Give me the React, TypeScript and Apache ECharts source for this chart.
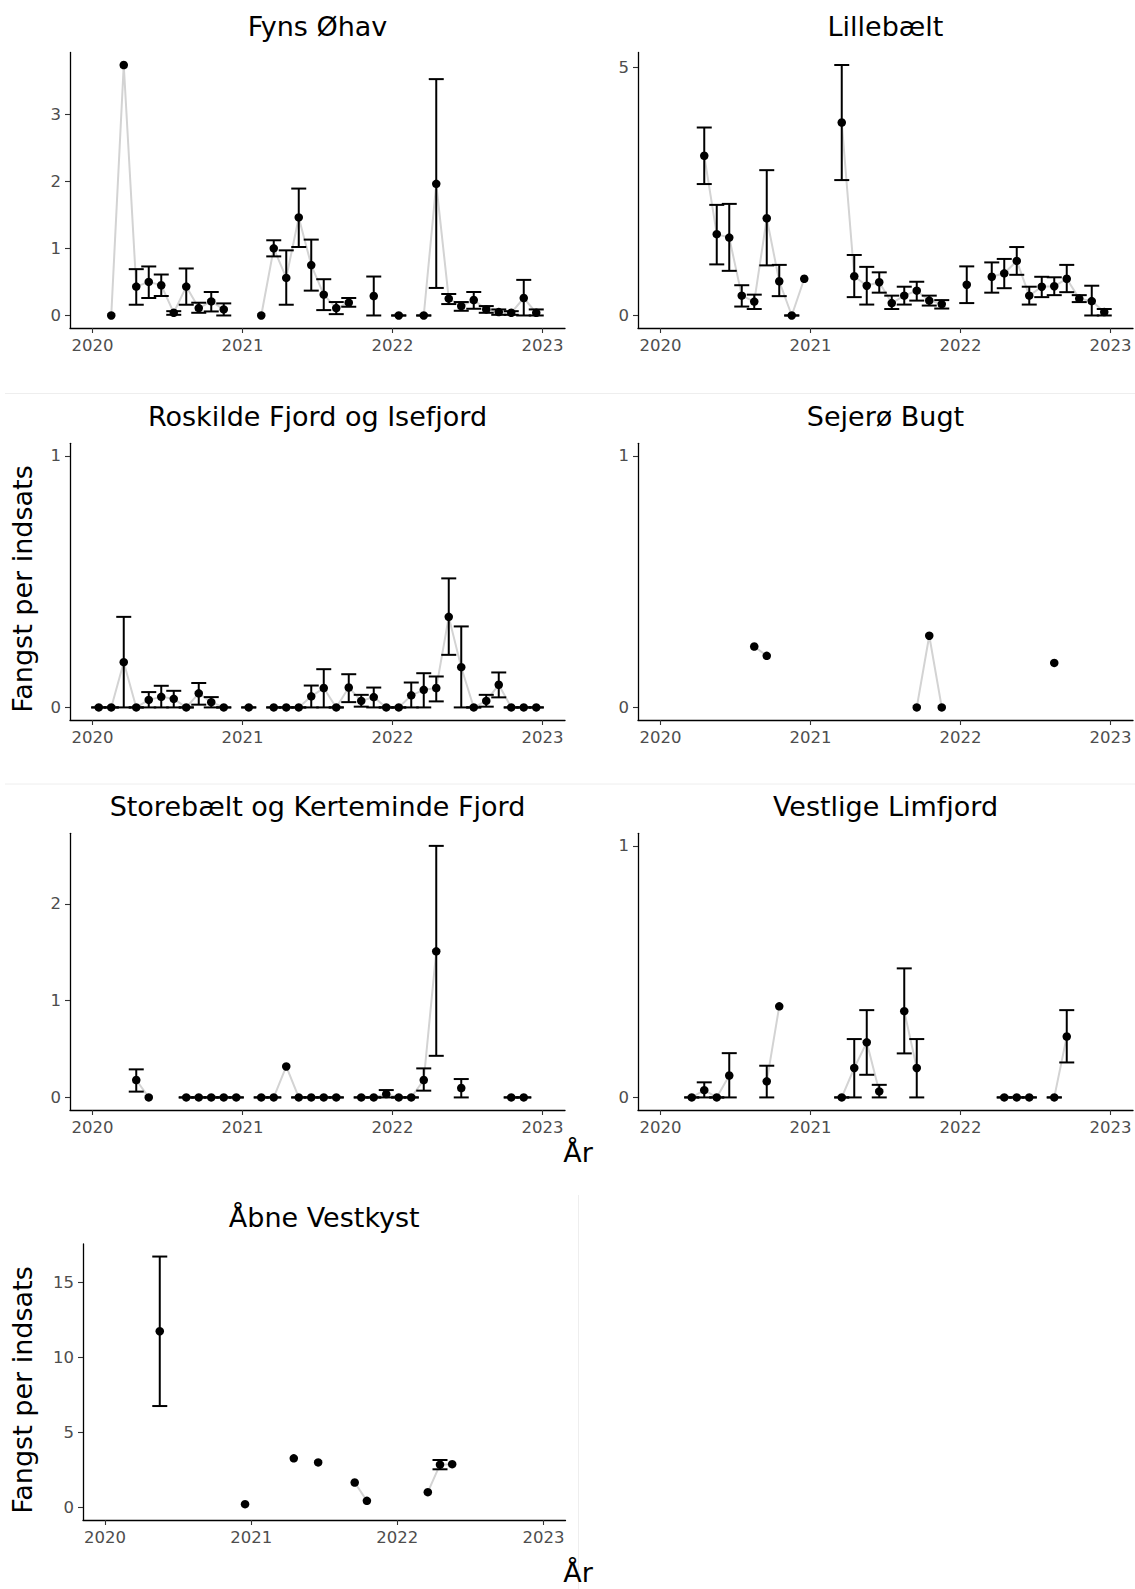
import React, { useEffect, useRef } from "react";
import * as echarts from "echarts";

// ---------- data ----------
const panelTitles = [
  "Fyns Øhav",
  "Lillebælt",
  "Roskilde Fjord og Isefjord",
  "Sejerø Bugt",
  "Storebælt og Kerteminde Fjord",
  "Vestlige Limfjord",
  "Åbne Vestkyst",
];

const xTickLabels = [2020, 2021, 2022, 2023];
const yAxisTitle = "Fangst per indsats";
const xAxisTitle = "År";

// Fyns Øhav
const fynsMonths = ["2020-02","2020-03","2020-04","2020-05","2020-06","2020-07","2020-08","2020-09","2020-10","2020-11","2021-02","2021-03","2021-04","2021-05","2021-06","2021-07","2021-08","2021-09","2021-11","2022-01","2022-03","2022-04","2022-05","2022-06","2022-07","2022-08","2022-09","2022-10","2022-11","2022-12"];
const fynsValues = [0, 3.73, 0.43, 0.5, 0.45, 0.04, 0.43, 0.11, 0.21, 0.09, 0, 1.0, 0.56, 1.46, 0.75, 0.31, 0.11, 0.19, 0.29, 0, 0, 1.96, 0.25, 0.14, 0.23, 0.09, 0.05, 0.04, 0.26, 0.04];
const fynsLow = [null, null, 0.16, 0.26, 0.29, 0.01, 0.16, 0.04, 0.06, 0, null, 0.88, 0.16, 1.02, 0.37, 0.08, 0.02, 0.13, 0, 0, 0, 0.41, 0.17, 0.07, 0.1, 0.04, 0.01, 0.01, 0, 0];
const fynsHigh = [null, null, 0.69, 0.73, 0.61, 0.064, 0.7, 0.19, 0.35, 0.18, null, 1.12, 0.97, 1.89, 1.13, 0.54, 0.2, 0.26, 0.58, 0, 0, 3.52, 0.32, 0.2, 0.35, 0.14, 0.09, 0.064, 0.53, 0.09];

// Lillebælt
const lilleMonths = ["2020-04","2020-05","2020-06","2020-07","2020-08","2020-09","2020-10","2020-11","2020-12","2021-03","2021-04","2021-05","2021-06","2021-07","2021-08","2021-09","2021-10","2021-11","2022-01","2022-03","2022-04","2022-05","2022-06","2022-07","2022-08","2022-09","2022-10","2022-11","2022-12"];
const lilleValues = [3.22, 1.64, 1.57, 0.4, 0.28, 1.96, 0.69, 0, 0.74, 3.89, 0.79, 0.6, 0.67, 0.25, 0.4, 0.5, 0.3, 0.23, 0.62, 0.78, 0.85, 1.1, 0.4, 0.58, 0.59, 0.74, 0.34, 0.29, 0.07];
const lilleLow = [2.65, 1.03, 0.9, 0.18, 0.13, 1.01, 0.39, 0, null, 2.73, 0.37, 0.22, 0.46, 0.13, 0.22, 0.3, 0.2, 0.14, 0.25, 0.46, 0.55, 0.82, 0.22, 0.37, 0.41, 0.47, 0.27, 0, 0];
const lilleHigh = [3.79, 2.23, 2.25, 0.61, 0.42, 2.93, 1.02, 0, null, 5.05, 1.22, 0.98, 0.87, 0.4, 0.58, 0.68, 0.4, 0.31, 0.99, 1.07, 1.14, 1.38, 0.58, 0.78, 0.77, 1.02, 0.41, 0.6, 0.13];

// Roskilde Fjord og Isefjord
const roskildeMonths = ["2020-01","2020-02","2020-03","2020-04","2020-05","2020-06","2020-07","2020-08","2020-09","2020-10","2020-11","2021-01","2021-03","2021-04","2021-05","2021-06","2021-07","2021-08","2021-09","2021-10","2021-11","2021-12","2022-01","2022-02","2022-03","2022-04","2022-05","2022-06","2022-07","2022-08","2022-09","2022-10","2022-11","2022-12"];
const roskildeValues = [0, 0, 0.18, 0, 0.03, 0.042, 0.034, 0, 0.056, 0.021, 0, 0, 0, 0, 0, 0.044, 0.077, 0, 0.079, 0.026, 0.041, 0, 0, 0.048, 0.07, 0.077, 0.36, 0.16, 0, 0.026, 0.09, 0, 0, 0];
const roskildeLow = [0, 0, 0, 0, 0, 0, 0, 0, 0.011, 0, 0, 0, 0, 0, 0, 0, 0, 0, 0.021, 0.003, 0, 0, 0, 0, 0, 0.024, 0.209, 0, 0, 0.003, 0.04, 0, 0, 0];
const roskildeHigh = [0, 0, 0.36, 0, 0.061, 0.086, 0.066, 0, 0.097, 0.041, 0, 0, 0, 0, 0, 0.087, 0.152, 0, 0.132, 0.05, 0.079, 0, 0, 0.099, 0.136, 0.123, 0.513, 0.322, 0, 0.05, 0.139, 0, 0, 0];

// Sejerø Bugt
const sejeroMonths = ["2020-08","2020-09","2021-09","2021-10","2021-11","2022-08"];
const sejeroValues = [0.242, 0.205, 0, 0.285, 0, 0.177];
const sejeroLow = [null, null, null, null, null, null];
const sejeroHigh = [null, null, null, null, null, null];

// Storebælt og Kerteminde Fjord
const storeMonths = ["2020-04","2020-05","2020-08","2020-09","2020-10","2020-11","2020-12","2021-02","2021-03","2021-04","2021-05","2021-06","2021-07","2021-08","2021-10","2021-11","2021-12","2022-01","2022-02","2022-03","2022-04","2022-06","2022-10","2022-11"];
const storeValues = [0.18, 0, 0, 0, 0, 0, 0, 0, 0, 0.32, 0, 0, 0, 0, 0, 0, 0.035, 0, 0, 0.18, 1.51, 0.097, 0, 0];
const storeLow = [0.06, null, 0, 0, 0, 0, 0, 0, 0, null, 0, 0, 0, 0, 0, 0, 0, 0, 0, 0.07, 0.43, 0, 0, 0];
const storeHigh = [0.29, null, 0, 0, 0, 0, 0, 0, 0, null, 0, 0, 0, 0, 0, 0, 0.076, 0, 0, 0.3, 2.6, 0.19, 0, 0];

// Vestlige Limfjord
const vestMonths = ["2020-03","2020-04","2020-05","2020-06","2020-09","2020-10","2021-03","2021-04","2021-05","2021-06","2021-08","2021-09","2022-04","2022-05","2022-06","2022-08","2022-09"];
const vestValues = [0, 0.029, 0, 0.087, 0.064, 0.362, 0, 0.117, 0.219, 0.024, 0.343, 0.117, 0, 0, 0, 0, 0.242];
const vestLow = [0, 0, 0, 0, 0, null, 0, 0, 0.09, 0, 0.175, 0, 0, 0, 0, 0, 0.139];
const vestHigh = [0, 0.06, 0, 0.176, 0.126, null, 0, 0.232, 0.347, 0.05, 0.513, 0.232, 0, 0, 0, 0, 0.347];

// Åbne Vestkyst
const aabneMonths = ["2020-05","2020-12","2021-04","2021-06","2021-09","2021-10","2022-03","2022-04","2022-05"];
const aabneValues = [11.73, 0.22, 3.27, 3.0, 1.66, 0.44, 1.02, 2.85, 2.88];
const aabneLow = [6.75, null, null, null, null, null, null, 2.54, null];
const aabneHigh = [16.7, null, null, null, null, null, null, 3.16, null];

const yTickValues = [
  [0, 1, 2, 3],
  [0, 5],
  [0, 1],
  [0, 1],
  [0, 1, 2],
  [0, 1],
  [0, 5, 10, 15],
];

const panelData = [
  { months: fynsMonths, values: fynsValues, low: fynsLow, high: fynsHigh },
  { months: lilleMonths, values: lilleValues, low: lilleLow, high: lilleHigh },
  { months: roskildeMonths, values: roskildeValues, low: roskildeLow, high: roskildeHigh },
  { months: sejeroMonths, values: sejeroValues, low: sejeroLow, high: sejeroHigh },
  { months: storeMonths, values: storeValues, low: storeLow, high: storeHigh },
  { months: vestMonths, values: vestValues, low: vestLow, high: vestHigh },
  { months: aabneMonths, values: aabneValues, low: aabneLow, high: aabneHigh },
];

// ---------- layout ----------
const X_MIN = 2019.85;
const X_MAX = 2023.15;
const FONT = "DejaVu Sans";

const grids = [
  { left: 70, top: 52.5, width: 495, height: 275.5 },
  { left: 638, top: 52.5, width: 495, height: 275.5 },
  { left: 70, top: 443.3, width: 495, height: 276.7 },
  { left: 638, top: 443.3, width: 495, height: 276.7 },
  { left: 70, top: 833.3, width: 495, height: 276.7 },
  { left: 638, top: 833.3, width: 495, height: 276.7 },
  { left: 83, top: 1244, width: 482.5, height: 276 },
];

function monthToX(s: string) {
  const [y, m] = s.split("-").map(Number);
  return y + (m - 0.5) / 12;
}
function monthIdx(s: string) {
  const [y, m] = s.split("-").map(Number);
  return y * 12 + m;
}

function buildOption() {
  const grid: any[] = [];
  const xAxis: any[] = [];
  const yAxis: any[] = [];
  const series: any[] = [];
  const graphic: any[] = [];

  panelData.forEach((p, i) => {
    const g = grids[i];
    grid.push({ left: g.left, top: g.top, width: g.width, height: g.height, containLabel: false });

    let dataMax = 1;
    p.values.forEach((v, j) => {
      dataMax = Math.max(dataMax, v, p.high[j] ?? 0);
    });
    const yMin = -0.05 * dataMax;
    const yMax = 1.05 * dataMax;

    xAxis.push({
      type: "value",
      gridIndex: i,
      min: X_MIN,
      max: X_MAX,
      splitLine: { show: false },
      axisLine: { show: true, onZero: false, lineStyle: { color: "#000", width: 1.3 } },
      axisTick: { show: true, length: 5, customValues: xTickLabels, lineStyle: { color: "#333", width: 1.1 } },
      axisLabel: {
        customValues: xTickLabels,
        formatter: (v: number) => String(Math.round(v)),
        color: "#4d4d4d",
        fontSize: 16.5,
        fontFamily: FONT,
        margin: 9,
      },
    });
    yAxis.push({
      type: "value",
      gridIndex: i,
      min: yMin,
      max: yMax,
      splitLine: { show: false },
      axisLine: { show: true, onZero: false, lineStyle: { color: "#000", width: 1.3 } },
      axisTick: { show: true, length: 5, customValues: yTickValues[i], lineStyle: { color: "#333", width: 1.1 } },
      axisLabel: {
        customValues: yTickValues[i],
        formatter: (v: number) => String(Math.round(v)),
        color: "#4d4d4d",
        fontSize: 16.5,
        fontFamily: FONT,
        margin: 9,
      },
    });

    // grey connecting line, broken where months are missing
    const lineData: any[] = [];
    p.months.forEach((m, j) => {
      if (j > 0 && monthIdx(m) - monthIdx(p.months[j - 1]) > 1) {
        lineData.push([monthToX(m) - 1 / 24, null]);
      }
      lineData.push([monthToX(m), p.values[j]]);
    });
    series.push({
      type: "line",
      xAxisIndex: i,
      yAxisIndex: i,
      data: lineData,
      showSymbol: false,
      symbol: "none",
      connectNulls: false,
      lineStyle: { color: "#d3d3d3", width: 2 },
      z: 1,
      silent: true,
    });

    const errData: any[] = [];
    p.months.forEach((m, j) => {
      if (p.low[j] != null && p.high[j] != null) errData.push([monthToX(m), p.low[j], p.high[j]]);
    });
    series.push({
      type: "custom",
      xAxisIndex: i,
      yAxisIndex: i,
      data: errData,
      encode: { x: 0, y: [1, 2] },
      z: 2,
      silent: true,
      renderItem: (params: any, api: any) => {
        const x = api.value(0);
        const lo = api.value(1);
        const hi = api.value(2);
        const a = api.coord([x, lo]);
        const b = api.coord([x, hi]);
        const hw = 7.5;
        const style = { stroke: "#000", lineWidth: 2 };
        return {
          type: "group",
          children: [
            { type: "line", shape: { x1: a[0], y1: a[1], x2: b[0], y2: b[1] }, style },
            { type: "line", shape: { x1: a[0] - hw, y1: a[1], x2: a[0] + hw, y2: a[1] }, style },
            { type: "line", shape: { x1: b[0] - hw, y1: b[1], x2: b[0] + hw, y2: b[1] }, style },
          ],
        };
      },
    });

    series.push({
      type: "scatter",
      xAxisIndex: i,
      yAxisIndex: i,
      data: p.months.map((m, j) => [monthToX(m), p.values[j]]),
      symbol: "circle",
      symbolSize: 8.5,
      itemStyle: { color: "#000", opacity: 1 },
      z: 3,
      silent: true,
    });

    graphic.push({
      type: "text",
      x: g.left + g.width / 2,
      y: g.top - 26.5,
      style: {
        text: panelTitles[i],
        fontSize: 27,
        fontFamily: FONT,
        fill: "#000",
        align: "center",
        verticalAlign: "middle",
      },
    });
  });

  // faint separator lines
  graphic.push(
    { type: "line", shape: { x1: 5, y1: 393.5, x2: 1135, y2: 393.5 }, style: { stroke: "#eeeeee", lineWidth: 1 } },
    { type: "line", shape: { x1: 5, y1: 784, x2: 1135, y2: 784 }, style: { stroke: "#eeeeee", lineWidth: 1 } },
    { type: "line", shape: { x1: 578.5, y1: 1195, x2: 578.5, y2: 1589 }, style: { stroke: "#eeeeee", lineWidth: 1 } }
  );

  // axis titles
  const yTitlePositions = [
    [22.5, 589],
    [22.5, 1390],
  ];
  yTitlePositions.forEach(([x, y]) => {
    graphic.push({
      type: "text",
      x,
      y,
      rotation: Math.PI / 2,
      style: {
        text: yAxisTitle,
        fontSize: 27,
        fontFamily: FONT,
        fill: "#000",
        align: "center",
        verticalAlign: "middle",
      },
    });
  });
  const xTitlePositions = [
    [578, 1152],
    [578, 1572],
  ];
  xTitlePositions.forEach(([x, y]) => {
    graphic.push({
      type: "text",
      x,
      y,
      style: {
        text: xAxisTitle,
        fontSize: 27,
        fontFamily: FONT,
        fill: "#000",
        align: "center",
        verticalAlign: "middle",
      },
    });
  });

  return {
    animation: false,
    backgroundColor: "#ffffff",
    textStyle: { fontFamily: FONT },
    grid,
    xAxis,
    yAxis,
    series,
    graphic,
  };
}

export default function App() {
  const ref = useRef<HTMLDivElement>(null);
  useEffect(() => {
    if (!ref.current) return;
    const chart = echarts.init(ref.current, undefined, { renderer: "svg" });
    chart.setOption(buildOption() as any);
    return () => chart.dispose();
  }, []);
  return (
    <div
      ref={ref}
      style={{ position: "fixed", left: 0, top: 0, width: 1135, height: 1589, background: "#fff" }}
    />
  );
}
